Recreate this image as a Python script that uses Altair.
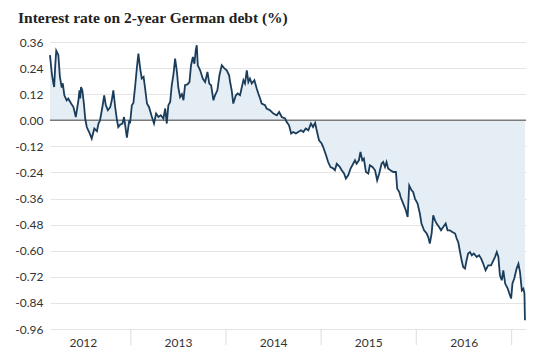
import altair as alt
import pandas as pd

# decimal-year positions and 2-year yield values (%)
years = [
    2012.153, 2012.171, 2012.188, 2012.198, 2012.209, 2012.219, 2012.240, 2012.258, 2012.276, 2012.287,
    2012.303, 2012.329, 2012.345, 2012.374, 2012.398, 2012.423, 2012.437, 2012.450, 2012.461, 2012.471,
    2012.479, 2012.492, 2012.507, 2012.521, 2012.539, 2012.563, 2012.591, 2012.618, 2012.644, 2012.660,
    2012.678, 2012.702, 2012.720, 2012.738, 2012.759, 2012.783, 2012.801, 2012.818, 2012.836, 2012.854,
    2012.870, 2012.888, 2012.912, 2012.930, 2012.959, 2012.983, 2012.993,
    2013.011, 2013.028, 2013.046, 2013.064, 2013.080, 2013.098, 2013.116, 2013.133, 2013.151, 2013.169,
    2013.193, 2013.221, 2013.245, 2013.266, 2013.290, 2013.316, 2013.343, 2013.361, 2013.379, 2013.395,
    2013.413, 2013.431, 2013.448, 2013.466, 2013.484, 2013.500, 2013.518, 2013.536, 2013.553, 2013.571,
    2013.595, 2013.616, 2013.634, 2013.652, 2013.668, 2013.683, 2013.694, 2013.704, 2013.728, 2013.757,
    2013.781, 2013.805, 2013.826, 2013.844, 2013.868, 2013.886, 2013.910, 2013.931, 2013.956, 2013.980,
    2014.009, 2014.033, 2014.043, 2014.061, 2014.078, 2014.103, 2014.124, 2014.148, 2014.166, 2014.183,
    2014.201, 2014.219, 2014.235, 2014.253, 2014.271, 2014.298, 2014.324, 2014.340, 2014.358, 2014.376,
    2014.411, 2014.428, 2014.463, 2014.498, 2014.533, 2014.558, 2014.586, 2014.621, 2014.639, 2014.663,
    2014.684, 2014.708, 2014.733, 2014.760, 2014.789, 2014.813, 2014.838, 2014.865, 2014.894, 2014.915,
    2014.936, 2014.953, 2014.978,
    2015.006, 2015.023, 2015.051, 2015.075, 2015.100, 2015.128, 2015.146, 2015.164, 2015.180, 2015.198,
    2015.216, 2015.240, 2015.261, 2015.285, 2015.310, 2015.338, 2015.356, 2015.373, 2015.398, 2015.415,
    2015.432, 2015.450, 2015.471, 2015.495, 2015.513, 2015.541, 2015.566, 2015.590, 2015.611, 2015.636,
    2015.653, 2015.671, 2015.689, 2015.705, 2015.730, 2015.758, 2015.786, 2015.800, 2015.821, 2015.835,
    2015.863, 2015.891, 2015.909, 2015.926, 2015.951, 2015.968, 2015.986,
    2016.014, 2016.038, 2016.056, 2016.083, 2016.108, 2016.125, 2016.143, 2016.161, 2016.178, 2016.196,
    2016.213, 2016.238, 2016.259, 2016.283, 2016.308, 2016.329, 2016.353, 2016.377, 2016.406, 2016.423,
    2016.440, 2016.458, 2016.476, 2016.493, 2016.511, 2016.528, 2016.545, 2016.563, 2016.581, 2016.605,
    2016.633, 2016.658, 2016.679, 2016.703, 2016.728, 2016.755, 2016.784, 2016.808, 2016.826, 2016.843,
    2016.860, 2016.878, 2016.896, 2016.913, 2016.931, 2016.959, 2016.976, 2016.994,
    2017.007, 2017.028, 2017.053, 2017.070, 2017.088, 2017.106, 2017.123, 2017.133, 2017.140,
]
rates = [
    0.300, 0.215, 0.170, 0.153, 0.250, 0.320, 0.300, 0.200, 0.150, 0.170,
    0.115, 0.092, 0.100, 0.077, 0.061, 0.015, 0.054, 0.092, 0.138, 0.100,
    0.153, 0.138, 0.077, 0.008, -0.031, -0.054, -0.084, -0.038, -0.050, -0.015,
    0.000, 0.061, 0.115, 0.070, 0.046, 0.060, 0.092, 0.138, 0.061, 0.000,
    -0.031, -0.020, -0.015, 0.015, -0.080, 0.000, -0.015,
    0.069, 0.080, 0.161, 0.238, 0.307, 0.238, 0.192, 0.200, 0.146, 0.077,
    0.060, 0.015, -0.015, 0.031, 0.015, 0.023, 0.008, 0.054, -0.015, 0.069,
    0.084, 0.161, 0.215, 0.284, 0.222, 0.153, 0.107, 0.120, 0.092, 0.161,
    0.165, 0.176, 0.253, 0.291, 0.260, 0.322, 0.345, 0.253, 0.230, 0.192,
    0.176, 0.222, 0.169, 0.161, 0.092, 0.115, 0.138, 0.207, 0.253, 0.240,
    0.230, 0.207, 0.176, 0.138, 0.077, 0.115, 0.123, 0.115, 0.153, 0.184,
    0.169, 0.230, 0.176, 0.192, 0.169, 0.184, 0.146, 0.123, 0.100, 0.077,
    0.069, 0.054, 0.046, 0.031, 0.023, 0.038, 0.015, 0.008, -0.008, -0.023,
    -0.061, -0.054, -0.061, -0.054, -0.046, -0.054, -0.038, -0.046, -0.015, -0.031,
    -0.012, -0.046, -0.092,
    -0.107, -0.123, -0.161, -0.192, -0.215, -0.222, -0.230, -0.200, -0.207, -0.215,
    -0.230, -0.245, -0.268, -0.253, -0.222, -0.200, -0.184, -0.200, -0.184, -0.146,
    -0.184, -0.176, -0.238, -0.245, -0.207, -0.215, -0.230, -0.276, -0.245, -0.200,
    -0.192, -0.215, -0.192, -0.222, -0.230, -0.238, -0.238, -0.315, -0.330, -0.353,
    -0.383, -0.414, -0.445, -0.300, -0.322, -0.330, -0.360,
    -0.383, -0.430, -0.475, -0.506, -0.521, -0.537, -0.567, -0.521, -0.437, -0.460,
    -0.475, -0.490, -0.506, -0.490, -0.475, -0.506, -0.506, -0.514, -0.521, -0.544,
    -0.560, -0.606, -0.644, -0.675, -0.682, -0.644, -0.613, -0.606, -0.621, -0.613,
    -0.629, -0.621, -0.636, -0.660, -0.690, -0.667, -0.667, -0.644, -0.629, -0.606,
    -0.629, -0.713, -0.736, -0.690, -0.751, -0.774, -0.797, -0.820,
    -0.751, -0.728, -0.682, -0.660, -0.698, -0.782, -0.774, -0.797, -0.920,
]

y_ticks = [0.36, 0.24, 0.12, 0.0, -0.12, -0.24, -0.36, -0.48, -0.60, -0.72, -0.84, -0.96]
label_dates = ["2012-07-01", "2013-07-01", "2014-07-01", "2015-07-01", "2016-07-01"]
year_starts = ["2013-01-01", "2014-01-01", "2015-01-01", "2016-01-01", "2017-01-01"]
x_domain = ["2012-02-26", "2017-02-25"]


def to_date(t):
    y = int(t)
    start = pd.Timestamp(year=y, month=1, day=1)
    n = (pd.Timestamp(year=y + 1, month=1, day=1) - start).days
    return (start + pd.Timedelta(days=round((t - y) * n))).strftime("%Y-%m-%d")


df = pd.DataFrame({"date": [to_date(t) for t in years], "rate": rates})
sep_df = pd.DataFrame({"date": year_starts})

W, H = 476, 287

x_enc = alt.X(
    "date:T",
    scale=alt.Scale(domain=x_domain),
    axis=alt.Axis(
        values=label_dates,
        tickCount=20,
        labelExpr="timeFormat(datum.value, '%Y')",
        ticks=False,
        domain=False,
        grid=False,
        title=None,
        labelFont="Lato",
        labelFontSize=12,
        labelColor="#333333",
        labelPadding=8,
    ),
)
y_enc = alt.Y(
    "rate:Q",
    scale=alt.Scale(domain=[-0.96, 0.36], nice=False, zero=False),
    axis=alt.Axis(
        values=y_ticks,
        tickCount=20,
        labelExpr="(datum.value < -0.0001 ? '-' : '') + format(abs(datum.value), '.2f')",
        labelOverlap=False,
        ticks=False,
        domain=False,
        grid=True,
        gridColor="#e4e4e4",
        gridWidth=1,
        title=None,
        labelFont="Lato",
        labelFontSize=12,
        labelColor="#333333",
        labelPadding=7,
    ),
)

base = alt.Chart(df)

area = base.mark_area(color="#e5edf5", opacity=1).encode(
    x=x_enc, y=y_enc, y2=alt.datum(0)
)

zero = alt.Chart(pd.DataFrame({"v": [0.0]})).mark_rule(
    color="#7a7a7a", strokeWidth=1.5
).encode(y="v:Q")

seps = alt.Chart(sep_df).mark_rule(color="#dddddd", strokeWidth=1).encode(
    x="date:T", y=alt.value(H), y2=alt.value(H + 16)
)

line = base.mark_line(color="#1b3d5c", strokeWidth=1.8).encode(x="date:T", y="rate:Q")

chart = (
    alt.layer(area, seps, zero, line)
    .properties(
        width=W,
        height=H,
        autosize=alt.AutoSizeParams(type="none"),
        padding={"left": 42, "top": 34, "right": 16, "bottom": 33},
        title=alt.TitleParams(
            "Interest rate on 2-year German debt (%)",
            anchor="start",
            frame="group",
            dx=-32,
            font="Liberation Serif",
            fontSize=15.5,
            fontWeight="bold",
            color="#222222",
            offset=10,
        ),
    )
    .configure_view(stroke=None)
)

chart.save("out.html", embed_options={"renderer": "svg", "actions": False})
